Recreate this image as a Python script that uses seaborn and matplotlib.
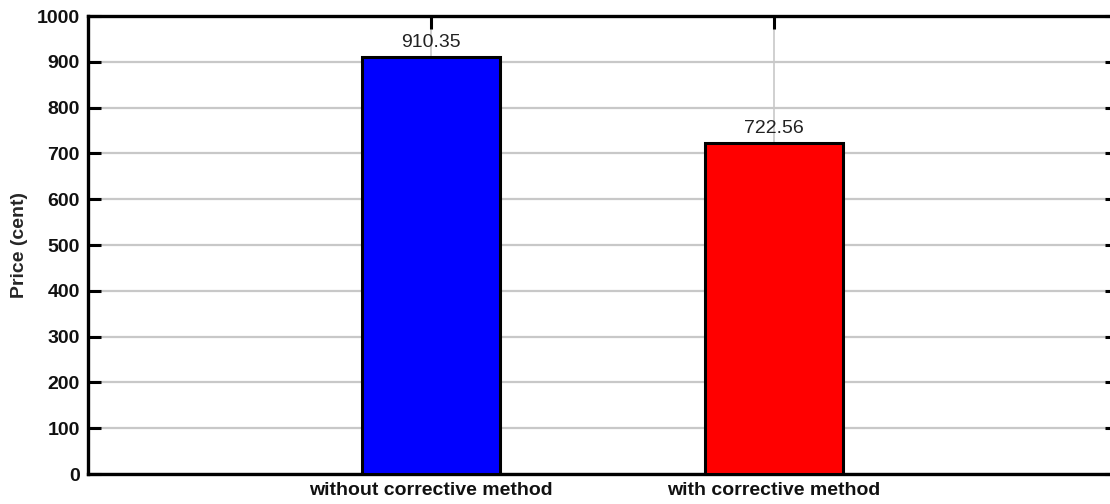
import pandas as pd
import matplotlib
matplotlib.use("Agg")
import matplotlib.pyplot as plt
import seaborn as sns

# values
methods = ["without corrective method", "with corrective method"]
prices = [910.35, 722.56]
bar_colors = ["#0000ff", "#ff0000"]
y_ticks = list(range(0, 1001, 100))

sns.set_theme(style="white")
plt.rcParams["font.family"] = ["Liberation Sans", "DejaVu Sans"]

df = pd.DataFrame({"method": methods, "price": prices})

fig = plt.figure(figsize=(11.1, 5.04), dpi=100)
ax = fig.add_axes([0.0793, 0.0595, 0.927, 0.9085])

sns.barplot(ax=ax, data=df, x="method", y="price", hue="method",
            palette=bar_colors, saturation=1, width=0.4, edgecolor="black",
            linewidth=2.2, legend=False, zorder=3)

for i, p in enumerate(prices):
    ax.text(i, p + 14, f"{p:.2f}", ha="center", va="bottom", fontsize=14,
            color="#222222", zorder=4)

ax.set_xlim(-1, 2)
ax.set_ylim(0, 1000)
ax.set_yticks(y_ticks)
ax.set_xlabel("")
ax.set_ylabel("Price (cent)", fontsize=14, fontweight="bold", labelpad=6)

ax.grid(True, axis="y", color="#c8c8c8", linewidth=1.6, zorder=0)
ax.grid(True, axis="x", color="#c8c8c8", linewidth=1.2, zorder=0)
ax.set_axisbelow(True)

ax.tick_params(axis="both", direction="in", length=9, width=2.2,
               color="black", labelsize=14, pad=6)
ax.tick_params(axis="y", right=True, left=True)
ax.tick_params(axis="x", top=True, bottom=True, pad=6)
for lab in ax.get_xticklabels() + ax.get_yticklabels():
    lab.set_fontweight("bold")
    lab.set_color("#111111")

for s in ax.spines.values():
    s.set_visible(True)
    s.set_linewidth(2.4)
    s.set_color("black")

fig.savefig("out.png", dpi=100)
